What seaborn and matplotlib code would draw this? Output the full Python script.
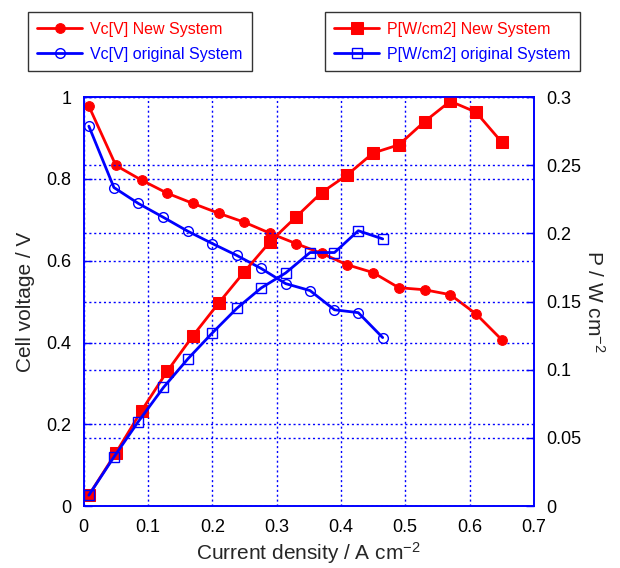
import matplotlib
matplotlib.use("Agg")
import matplotlib.pyplot as plt
import seaborn as sns
import numpy as np

# data
i_new = [0.008, 0.05, 0.09, 0.13, 0.17, 0.21, 0.25, 0.29, 0.33, 0.37, 0.41, 0.45, 0.49, 0.53, 0.57, 0.61, 0.65]
vc_new = [0.978, 0.833, 0.797, 0.765, 0.74, 0.716, 0.694, 0.667, 0.642, 0.618, 0.59, 0.571, 0.534, 0.529, 0.517, 0.47, 0.407]
p_new = [0.008, 0.039, 0.07, 0.099, 0.125, 0.149, 0.172, 0.194, 0.212, 0.23, 0.243, 0.259, 0.265, 0.282, 0.297, 0.289, 0.267]

i_orig = [0.008, 0.047, 0.085, 0.124, 0.162, 0.2, 0.238, 0.276, 0.314, 0.352, 0.39, 0.427, 0.465]
vc_orig = [0.929, 0.779, 0.74, 0.706, 0.672, 0.642, 0.613, 0.581, 0.544, 0.527, 0.48, 0.473, 0.412]
p_orig = [0.008, 0.036, 0.062, 0.087, 0.108, 0.127, 0.145, 0.16, 0.171, 0.186, 0.186, 0.202, 0.196]

sns.set_style("white")
plt.rcParams['font.family'] = ['Liberation Sans', 'DejaVu Sans']
plt.rcParams['mathtext.default'] = 'regular'

fig = plt.figure(figsize=(6.2, 5.68), dpi=100)
ax = fig.add_axes([0.135, 0.109, 0.726, 0.72])
ax2 = ax.twinx()

blue = '#0000ff'
red = '#ff0000'

sns.lineplot(x=i_new, y=vc_new, ax=ax, color=red, marker='o', markersize=7,
             markeredgecolor=red, linewidth=2, label='Vc[V] New System')
sns.lineplot(x=i_orig, y=vc_orig, ax=ax, color=blue, marker='o', markersize=7,
             markerfacecolor='none', markeredgecolor=blue, markeredgewidth=1,
             linewidth=2, label='Vc[V] original System')
sns.lineplot(x=i_new, y=p_new, ax=ax2, color=red, marker='s', markersize=8,
             markeredgecolor=red, linewidth=2, label='P[W/cm2] New System')
sns.lineplot(x=i_orig, y=p_orig, ax=ax2, color=blue, marker='s', markersize=7,
             markerfacecolor='none', markeredgecolor=blue, markeredgewidth=1,
             linewidth=2, label='P[W/cm2] original System')

ax.set_xlim(0, 0.7)
ax.set_ylim(0, 1)
ax2.set_ylim(0, 0.3)
ax.set_xticks(np.arange(0, 0.71, 0.1))
ax.set_xticklabels(['0', '0.1', '0.2', '0.3', '0.4', '0.5', '0.6', '0.7'])
ax.set_yticks([0, 0.2, 0.4, 0.6, 0.8, 1])
ax.set_yticklabels(['0', '0.2', '0.4', '0.6', '0.8', '1'])
ax2.set_yticks([0, 0.05, 0.1, 0.15, 0.2, 0.25, 0.3])
ax2.set_yticklabels(['0', '0.05', '0.1', '0.15', '0.2', '0.25', '0.3'])

for a in (ax, ax2):
    for s in a.spines.values():
        s.set_color(blue)
        s.set_linewidth(1.2)
    a.tick_params(direction='in', length=6, width=1, color=blue, labelsize=13,
                  labelcolor='black', pad=9)

ax.grid(True, color=blue, linestyle=(0, (1.5, 2)), linewidth=1)
ax2.grid(True, axis='y', color=blue, linestyle=(0, (1.5, 2)), linewidth=1)
ax2.xaxis.grid(False)
ax.set_axisbelow(True)

ax.set_xlabel('Current density / A cm$^{-2}$', fontsize=15, labelpad=3)
ax.set_ylabel('Cell voltage / V', fontsize=15, labelpad=8)
ax2.set_ylabel('P / W cm$^{-2}$', fontsize=15, rotation=270, labelpad=17)

h1, l1 = ax.get_legend_handles_labels()
h2, l2 = ax2.get_legend_handles_labels()
ax.get_legend().remove()
ax2.get_legend().remove()

leg1 = fig.legend(h1, l1, loc='upper left', bbox_to_anchor=(0.045, 0.979),
                  fancybox=False, edgecolor='black', fontsize=11.5, handlelength=2.8,
                  handletextpad=0.5, borderpad=0.6, labelspacing=0.65,
                  borderaxespad=0, labelcolor='linecolor')
leg2 = fig.legend(h2, l2, loc='upper left', bbox_to_anchor=(0.524, 0.979),
                  fancybox=False, edgecolor='black', fontsize=11.5, handlelength=2.8,
                  handletextpad=0.5, borderpad=0.6, labelspacing=0.65,
                  borderaxespad=0, labelcolor='linecolor')
for lg in (leg1, leg2):
    lg.get_frame().set_linewidth(1)

fig.savefig('out.png', dpi=100)
